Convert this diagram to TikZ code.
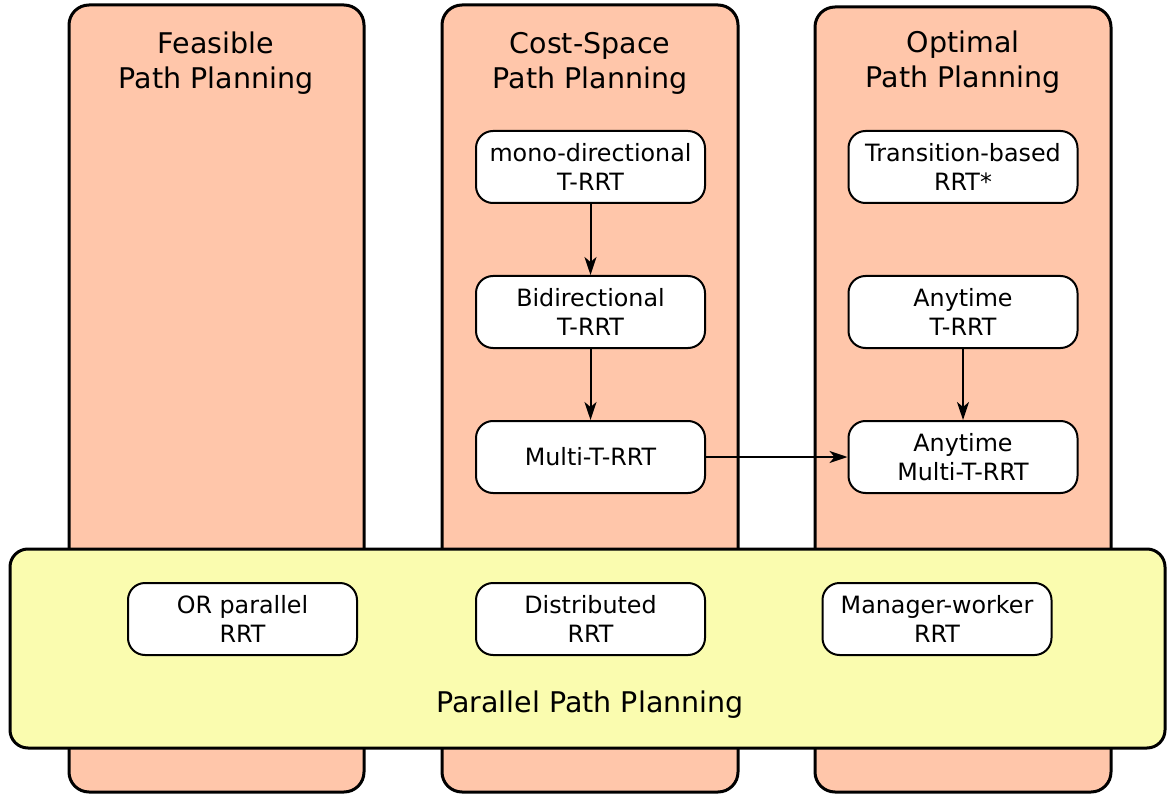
\documentclass[tikz,border=0pt]{standalone}
\usepackage{fontspec}
\setmainfont{DejaVu Sans}
\usetikzlibrary{arrows.meta}
\definecolor{salmon}{HTML}{FFC6AA}
\definecolor{paleyellow}{HTML}{FAFCAF}
\begin{document}
\begin{tikzpicture}[x=1pt,y=-1pt,
  column/.style={draw=black, line width=3pt, fill=salmon, rounded corners=20pt},
  band/.style={draw=black, line width=3pt, fill=paleyellow, rounded corners=18pt},
  algo/.style={draw=black, line width=2pt, fill=white, rounded corners=17pt,
    minimum width=229pt, minimum height=72pt, inner sep=0pt, align=center,
    font=\fontsize{23.8}{29.5}\selectfont},
  title/.style={align=center, inner sep=0pt, font=\fontsize{28.5}{35}\selectfont},
  link/.style={line width=2pt, -{Stealth[length=18pt,width=12pt,inset=5pt]}}]
\useasboundingbox (0,0) rectangle (1167,794);
% columns
\draw[column] (69,5) rectangle (364,792);
\draw[column] (442,5) rectangle (738,792);
\draw[column] (815,7) rectangle (1111,792);
% titles
\node[title] (tfeas) at (216,63.5) {Feasible\\Path Planning};
\node[title] (tcost) at (590,63.5) {Cost-Space\\Path Planning};
\node[title] (topt) at (963,62) {Optimal\\Path Planning};
% parallel band
\draw[band] (10,549) rectangle (1165,748);
\node[title] (tpar) at (590,705) {Parallel Path Planning};
% algorithm boxes
\node[algo] (mono) at (590.5,167) {mono-directional\\T-RRT};
\node[algo] (bidir) at (590.5,312) {Bidirectional\\T-RRT};
\node[algo] (multi) at (590.5,457) {Multi-T-RRT};
\node[algo] (trrtstar) at (963,167) {Transition-based\\RRT*};
\node[algo] (anytime) at (963,312) {Anytime\\T-RRT};
\node[algo] (anymulti) at (963,457) {Anytime\\Multi-T-RRT};
\node[algo] (orpar) at (242.5,619) {OR parallel\\RRT};
\node[algo] (distr) at (590.5,619) {Distributed\\RRT};
\node[algo] (manager) at (937,619) {Manager-worker\\RRT};
% connectors
\draw[link] (mono) -- (bidir);
\draw[link] (bidir) -- (multi);
\draw[link] (anytime) -- (anymulti);
\draw[link] (multi) -- (anymulti);
\end{tikzpicture}
\end{document}
